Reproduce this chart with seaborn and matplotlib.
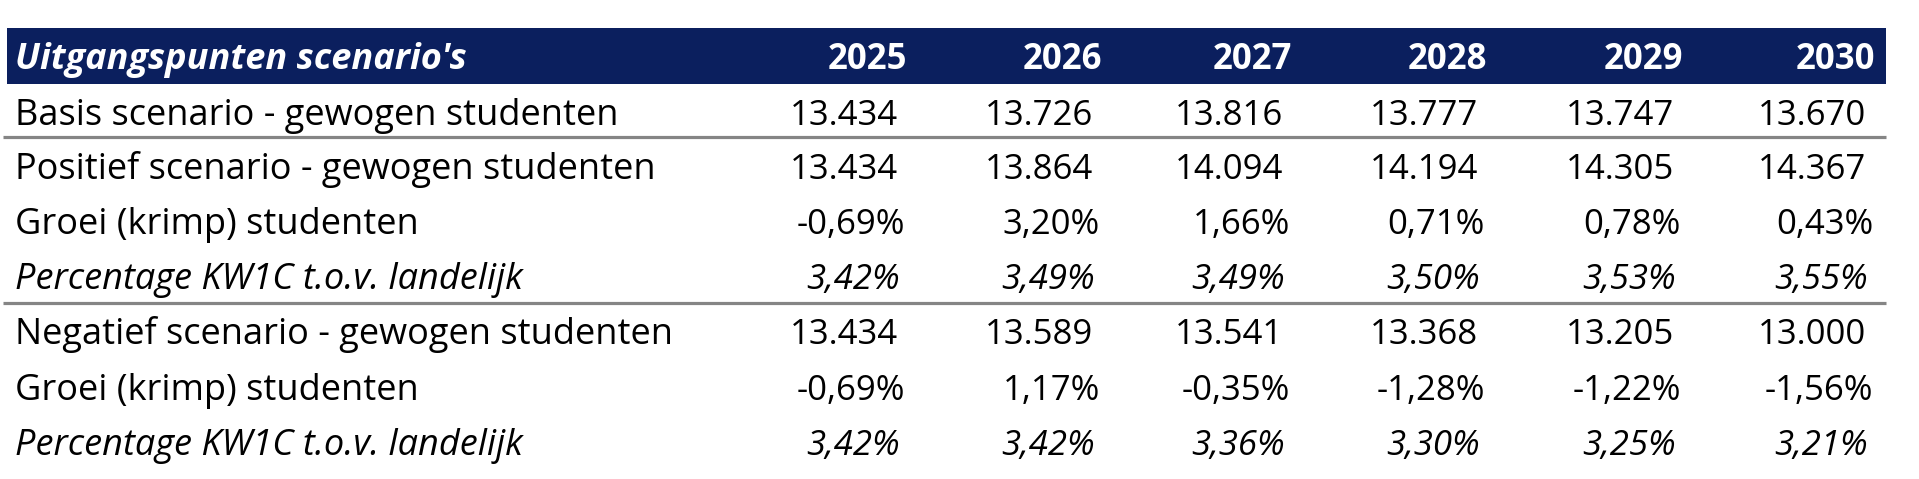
import matplotlib
matplotlib.use("Agg")
import matplotlib.pyplot as plt
import seaborn as sns

# --- data ---
title = "Uitgangspunten scenario's"
years = [2025, 2026, 2027, 2028, 2029, 2030]
row_labels = [
    "Basis scenario - gewogen studenten",
    "Positief scenario - gewogen studenten",
    "Groei (krimp) studenten",
    "Percentage KW1C t.o.v. landelijk",
    "Negatief scenario - gewogen studenten",
    "Groei (krimp) studenten",
    "Percentage KW1C t.o.v. landelijk",
]
basis = [13434, 13726, 13816, 13777, 13747, 13670]
positief = [13434, 13864, 14094, 14194, 14305, 14367]
positief_groei = [-0.69, 3.20, 1.66, 0.71, 0.78, 0.43]
positief_pct = [3.42, 3.49, 3.49, 3.50, 3.53, 3.55]
negatief = [13434, 13589, 13541, 13368, 13205, 13000]
negatief_groei = [-0.69, 1.17, -0.35, -1.28, -1.22, -1.56]
negatief_pct = [3.42, 3.42, 3.36, 3.30, 3.25, 3.21]


def fmt_int(v):
    return f"{v:,}".replace(",", ".")


def fmt_pct(v):
    return f"{v:.2f}%".replace(".", ",")


rows = [
    ([fmt_int(v) for v in basis], "normal", "int"),
    ([fmt_int(v) for v in positief], "normal", "int"),
    ([fmt_pct(v) for v in positief_groei], "normal", "pct"),
    ([fmt_pct(v) for v in positief_pct], "italic", "ipct"),
    ([fmt_int(v) for v in negatief], "normal", "int"),
    ([fmt_pct(v) for v in negatief_groei], "normal", "pct"),
    ([fmt_pct(v) for v in negatief_pct], "italic", "ipct"),
]

# --- layout (pixels) ---
sns.set_theme(style="white")
plt.rcParams["font.family"] = ["Open Sans", "DejaVu Sans"]

W, H = 1919, 479
fig = plt.figure(figsize=(W / 100, H / 100), dpi=100)
ax = fig.add_axes([0, 0, 1, 1])
ax.set_xlim(0, W)
ax.set_ylim(H, 0)
ax.axis("off")

navy = "#0b1f5e"
col_right = [907, 1102, 1292, 1487, 1683, 1875]
shift = {"int": -9, "pct": -2, "ipct": -7}
baselines = [125, 179, 234, 289, 344, 400, 455]
fs_label = 26
fs_val = 25

# header band
ax.add_patch(plt.Rectangle((7, 28), 1879, 56, color=navy, lw=0))
ax.text(15, 69, title, color="white", fontsize=fs_label, fontweight="bold",
        fontstyle="italic", va="baseline", ha="left")
for x, yr in zip(col_right, years):
    ax.text(x, 69, str(yr), color="white", fontsize=fs_val, fontweight="bold",
            va="baseline", ha="right")

# body
for (vals, style, kind), label, yb in zip(rows, row_labels, baselines):
    ax.text(15, yb, label, color="black", fontsize=fs_label, fontstyle=style,
            va="baseline", ha="left")
    for x, v in zip(col_right, vals):
        ax.text(x + shift[kind], yb, v, color="black", fontsize=fs_val,
                fontstyle=style, va="baseline", ha="right")

# separators
for y in [137, 303]:
    ax.plot([3, 1886], [y, y], color="#858585", lw=2.3, solid_capstyle="butt")

fig.savefig("out.png", dpi=100, facecolor="white")
